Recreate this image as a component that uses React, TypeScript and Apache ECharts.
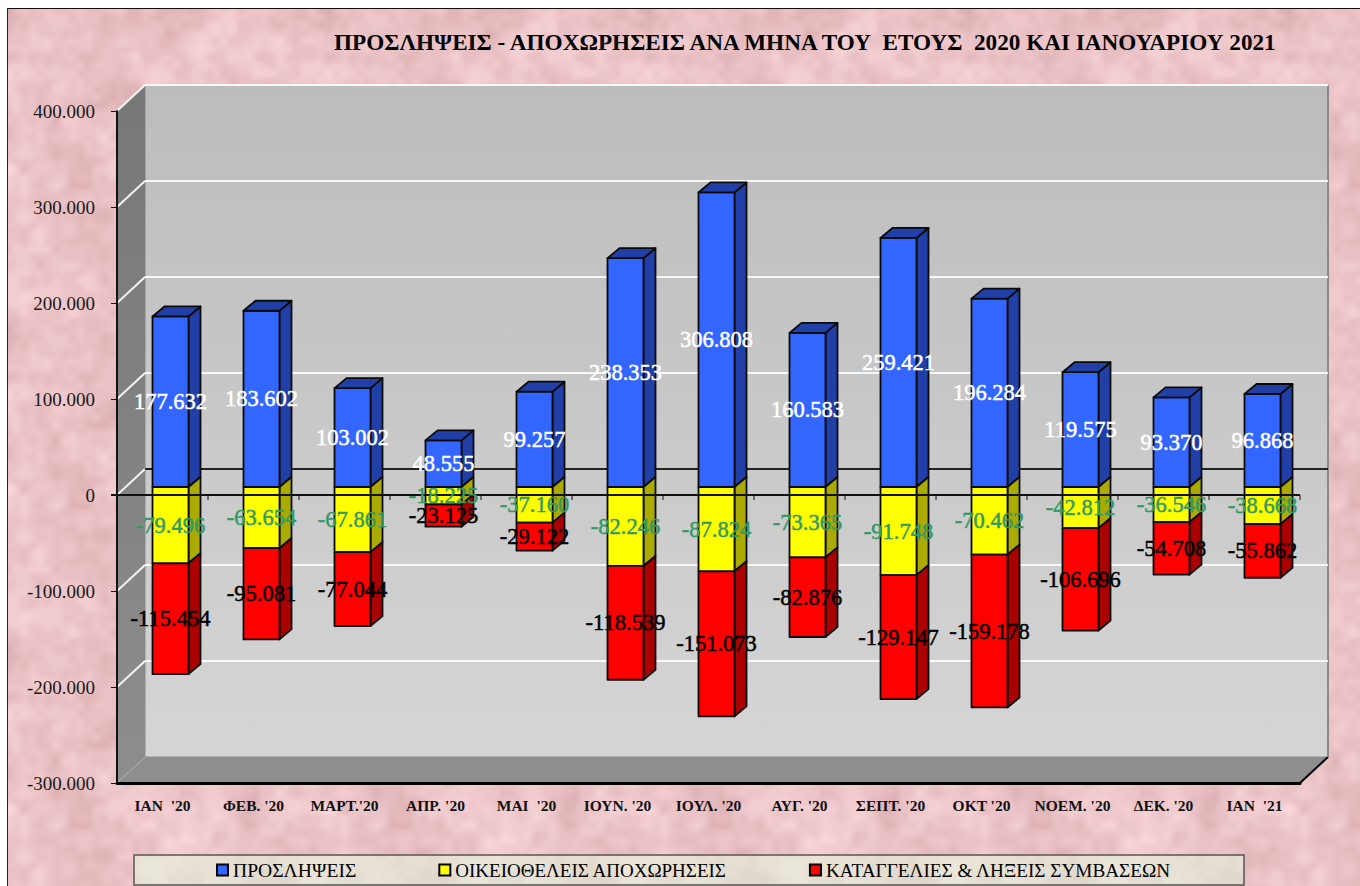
import React, { useEffect, useRef } from "react";
import * as echarts from "echarts";

const categories = ["ΙΑΝ\u00a0 '20", "ΦΕΒ. '20", "ΜΑΡΤ.'20", "ΑΠΡ. '20", "ΜΑΙ\u00a0 '20", "ΙΟΥΝ. '20", "ΙΟΥΛ. '20", "ΑΥΓ. '20", "ΣΕΠΤ. '20", "ΟΚΤ '20", "ΝΟΕΜ. '20", "ΔΕΚ. '20", "ΙΑΝ\u00a0 '21"];
const hires = [177632, 183602, 103002, 48555, 99257, 238353, 306808, 160583, 259421, 196284, 119575, 93370, 96868];
const voluntary = [-79496, -63654, -67861, -18225, -37160, -82246, -87824, -73365, -91748, -70462, -42812, -36546, -38668];
const terminations = [-115454, -95081, -77044, -23125, -29122, -118539, -151073, -82876, -129147, -159178, -106696, -54708, -55862];
const yTicks = [-300000, -200000, -100000, 0, 100000, 200000, 300000, 400000];
const TITLE = "ΠΡΟΣΛΗΨΕΙΣ - ΑΠΟΧΩΡΗΣΕΙΣ ΑΝΑ ΜΗΝΑ ΤΟΥ\u00a0 ΕΤΟΥΣ\u00a0 2020 ΚΑΙ ΙΑΝΟΥΑΡΙΟΥ 2021";
const NAMES = ["ΠΡΟΣΛΗΨΕΙΣ", "ΟΙΚΕΙΟΘΕΛΕΙΣ ΑΠΟΧΩΡΗΣΕΙΣ", "ΚΑΤΑΓΓΕΛΙΕΣ & ΛΗΞΕΙΣ ΣΥΜΒΑΣΕΩΝ"];

const FONT = "'Liberation Serif', serif";
const DX = 28, DY = 26; // wall depth
const BAR_OFF = 8, BAR_W = 36, SDX = 12, SDY = 10;

const fmt = (v: number) => {
  const a = Math.abs(v);
  const s = String(a).replace(/\B(?=(\d{3})+$)/g, ".");
  return (v < 0 ? "-" : "") + (a === 0 ? "0" : s);
};

function hash(x: number, y: number, s: number) {
  let h = (x * 374761393 + y * 668265263 + s * 1442695041) | 0;
  h = Math.imul(h ^ (h >>> 13), 1274126177);
  return ((h ^ (h >>> 16)) >>> 0) / 4294967295;
}
function noise(x: number, y: number, cell: number, size: number, s: number) {
  const n = Math.round(size / cell);
  const fx = x / cell, fy = y / cell;
  const ix = Math.floor(fx), iy = Math.floor(fy);
  const tx = fx - ix, ty = fy - iy;
  const ux = tx * tx * (3 - 2 * tx), uy = ty * ty * (3 - 2 * ty);
  const g = (a: number, b: number) => hash(((a % n) + n) % n, ((b % n) + n) % n, s);
  const top = g(ix, iy) * (1 - ux) + g(ix + 1, iy) * ux;
  const bot = g(ix, iy + 1) * (1 - ux) + g(ix + 1, iy + 1) * ux;
  return top * (1 - uy) + bot * uy;
}
function texture(size: number, base: number[], amp: number) {
  const c = document.createElement("canvas");
  c.width = c.height = size;
  const ctx = c.getContext("2d")!;
  const img = ctx.createImageData(size, size);
  for (let y = 0; y < size; y++) {
    for (let x = 0; x < size; x++) {
      const v =
        (noise(x, y, 40, size, 1) - 0.5) * 0.8 +
        (noise(x, y, 16, size, 2) - 0.5) * 0.8 +
        (noise(x, y, 8, size, 3) - 0.5) * 0.5;
      const i = (x + y * size) * 4;
      img.data[i] = base[0] + v * amp * 0.75;
      img.data[i + 1] = base[1] + v * amp;
      img.data[i + 2] = base[2] + v * amp;
      img.data[i + 3] = 255;
    }
  }
  ctx.putImageData(img, 0, 0);
  return c;
}

function wallsItem(params: any, api: any) {
  const cs = params.coordSys;
  const L = cs.x, R = cs.x + cs.width;
  const yOf = (v: number) => api.coord([0, v])[1];
  const T = yOf(400000), B = yOf(-300000);
  const children: any[] = [
    { type: "rect", shape: { x: L + DX, y: T - DY, width: R - L, height: B - T }, style: { fill: new echarts.graphic.LinearGradient(0, 0, 0, 1, [{ offset: 0, color: "#bcbcbc" }, { offset: 1, color: "#d5d5d5" }]), stroke: "#8a8a8a", lineWidth: 1 } },
    { type: "polygon", shape: { points: [[L, T], [L + DX, T - DY], [L + DX, B - DY], [L, B]] }, style: { fill: new echarts.graphic.LinearGradient(0, 0, 0, 1, [{ offset: 0, color: "#777777" }, { offset: 1, color: "#8d8d8d" }]) } },
    { type: "polygon", shape: { points: [[L, B], [L + DX, B - DY], [R + DX, B - DY], [R, B]] }, style: { fill: "#8e8e8e" } },
    { type: "line", shape: { x1: L + DX, y1: B - DY, x2: L, y2: B }, style: { stroke: "#b0b0b0", lineWidth: 1 } },
    { type: "line", shape: { x1: R, y1: B, x2: R + DX, y2: B - DY }, style: { stroke: "#000", lineWidth: 2 } },
    { type: "line", shape: { x1: R + DX, y1: T - DY, x2: R + DX, y2: B - DY }, style: { stroke: "#8a8a8a", lineWidth: 2 } },
  ];
  yTicks.forEach((t) => {
    if (t === -300000) return;
    const y = yOf(t);
    children.push({ type: "polyline", shape: { points: [[L, y], [L + DX, y - DY]] }, style: { stroke: "#f4f4f4", lineWidth: 2, fill: "none" } });
    children.push({ type: "line", shape: { x1: L + DX, y1: y - DY, x2: R + DX, y2: y - DY }, style: { stroke: t === 0 ? "#222" : "#f8f8f8", lineWidth: 2 } });
  });
  return { type: "group", children };
}

function zeroItem(params: any, api: any) {
  const cs = params.coordSys;
  const L = cs.x, R = cs.x + cs.width;
  const y = api.coord([0, 0])[1];
  const w = api.size([1, 0])[0];
  const children: any[] = [{ type: "line", z2: 50, shape: { x1: L - 6, y1: y, x2: R, y2: y }, style: { stroke: "#111", lineWidth: 2 } }];
  categories.forEach((_, i) => {
    const x = L + w * (i + 1);
    children.push({ type: "line", z2: 50, shape: { x1: x, y1: y, x2: x, y2: y + 5 }, style: { stroke: "#111", lineWidth: 1 } });
  });
  return { type: "group", children };
}

function barItem(front: string, side: string, labelColor: string, withTop: boolean) {
  return (_params: any, api: any) => {
    const c = api.value(0), a = api.value(1), b = api.value(2);
    const pa = api.coord([c, a]), pb = api.coord([c, b]);
    const x0 = pa[0] + BAR_OFF - BAR_W / 2, x1 = x0 + BAR_W;
    const yA = pa[1] - BAR_OFF, yB = pb[1] - BAR_OFF;
    const top = Math.min(yA, yB), bot = Math.max(yA, yB);
    const st = (fill: string) => ({ fill, stroke: "#0a0a0a", lineWidth: 1.8, lineJoin: "round" });
    const children: any[] = [
      { type: "polygon", shape: { points: [[x1, top], [x1 + SDX, top - SDY], [x1 + SDX, bot - SDY], [x1, bot]] }, style: st(side) },
      { type: "rect", shape: { x: x0, y: top, width: BAR_W, height: bot - top }, style: st(front) },
    ];
    if (withTop) children.push({ type: "polygon", shape: { points: [[x0, top], [x0 + SDX, top - SDY], [x1 + SDX, top - SDY], [x1, top]] }, style: st(side) });
    children.push({
      type: "text", z2: 100, x: (x0 + x1) / 2, y: (top + bot) / 2,
      style: { text: fmt(b - a), fill: labelColor, stroke: labelColor, lineWidth: 0.5, font: `22.5px ${FONT}`, align: "center", verticalAlign: "middle" },
    });
    return { type: "group", children };
  };
}

export default function App() {
  const chartRef = useRef<HTMLDivElement>(null);
  const frameRef = useRef<HTMLDivElement>(null);
  useEffect(() => {
    document.body.style.margin = "0";
    document.body.style.background = "#fff";
    if (frameRef.current) frameRef.current.style.backgroundImage = `url(${texture(320, [235, 195, 198], 24).toDataURL()})`;
    const chart = echarts.init(chartRef.current!, undefined, { renderer: "svg" });
    const legendBg = texture(160, [230, 223, 211], 12);
    const blueData = hires.map((v, i) => [i, 0, v]);
    const yellowData = voluntary.map((v, i) => [i, 0, v]);
    const redData = terminations.map((v, i) => [i, voluntary[i], voluntary[i] + v]);
    const common = { type: "custom", coordinateSystem: "cartesian2d", silent: true };
    const legendSizes = [19.6, 19, 19.2];
    chart.setOption({
      animation: false,
      backgroundColor: "transparent",
      title: { text: TITLE, left: 329, top: 25, textStyle: { fontFamily: FONT, fontSize: 23.2, fontWeight: "bold", color: "#000" } },
      grid: { left: 117, top: 111, width: 1183, height: 672 },
      legend: {
        data: NAMES.map((name, i) => ({ name, textStyle: { fontSize: legendSizes[i] } })),
        left: 211, top: 855, itemWidth: 11, itemHeight: 11, itemGap: 82, icon: "rect",
        textStyle: { fontFamily: FONT, color: "#000" },
        itemStyle: { borderColor: "#000", borderWidth: 2 },
      },
      graphic: [
        { type: "rect", z: 1, shape: { x: 134, y: 855, width: 1110, height: 30 }, style: { fill: { image: legendBg, repeat: "repeat" } as any, stroke: "#555", lineWidth: 1.5 } },
      ],
      xAxis: {
        type: "category", data: categories, z: 5,
        axisLine: { onZero: false, lineStyle: { color: "#000", width: 3 } },
        axisTick: { show: false },
        axisLabel: { interval: 0, margin: 14, fontFamily: FONT, fontSize: 15.5, fontWeight: "bold", color: "#111" },
        splitLine: { show: false },
      },
      yAxis: {
        type: "value", min: -300000, max: 400000, interval: 100000, z: 5,
        axisLine: { show: true, lineStyle: { color: "#111", width: 2 } },
        axisTick: { show: true, length: 6, lineStyle: { color: "#111", width: 1 } },
        axisLabel: { margin: 22, fontFamily: FONT, fontSize: 19, color: "#1a1a1a", formatter: (v: number) => fmt(v) },
        splitLine: { show: false },
      },
      series: [
        { ...common, name: "walls", data: [[0, 0, 0]], encode: { x: 0, y: 1 }, renderItem: wallsItem },
        { ...common, name: NAMES[0], itemStyle: { color: "#3366ff" }, data: blueData, encode: { x: 0, y: [1, 2] }, renderItem: barItem("#3366ff", "#2040a8", "#ffffff", true) },
        { ...common, name: NAMES[1], itemStyle: { color: "#ffff00" }, data: yellowData, encode: { x: 0, y: [1, 2] }, renderItem: barItem("#ffff00", "#aaaa00", "#339966", false) },
        { ...common, name: NAMES[2], itemStyle: { color: "#ff0000" }, data: redData, encode: { x: 0, y: [1, 2] }, renderItem: barItem("#ff0000", "#aa0000", "#000000", false) },
        { ...common, name: "zero", data: [[0, 0, 0]], encode: { x: 0, y: 1 }, renderItem: zeroItem },
      ],
    });
    return () => chart.dispose();
  }, []);
  return (
    <div style={{ position: "relative", width: 1360, height: 886, background: "#fff", overflow: "hidden" }}>
      <div ref={frameRef} style={{ position: "absolute", left: 7, top: 8, width: 1353, height: 878, boxSizing: "border-box", borderLeft: "1px solid #222", borderTop: "1px solid #111" }} />
      <div ref={chartRef} style={{ position: "absolute", left: 0, top: 0, width: 1360, height: 886 }} />
    </div>
  );
}
